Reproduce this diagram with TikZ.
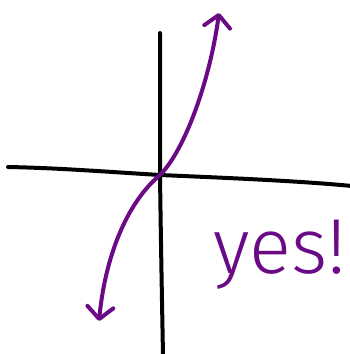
\documentclass[tikz,border=0pt]{standalone}
\usepackage{fontspec}
\newfontfamily\handfont{Fira Sans Light}
\usetikzlibrary{arrows.meta}
\definecolor{grape}{RGB}{106,10,132}
\tikzset{barbtip/.tip={Straight Barb[length=12pt,width=26pt,line cap=round,line join=round]}}
\begin{document}
\begin{tikzpicture}[x=1pt,y=-1pt,
  axisline/.style={line width=4pt,black,line cap=round},
  curveline/.style={line width=4pt,grape,line cap=round,line join=round},
  label/.style={text=grape,font=\handfont\fontsize{78}{78}\selectfont,inner sep=0pt}]
\useasboundingbox (0,0) rectangle (349,354);
\coordinate (O) at (160,175);
\coordinate (xl) at (8,167);
\coordinate (xr) at (352,186);
\coordinate (yt) at (160,33);
\coordinate (yb) at (163,356);
\coordinate (cb) at (99,321);
\coordinate (ct) at (219,13);
\draw[axisline] (xl) .. controls (60,168) and (110,172) .. (O) .. controls (230,178) and (300,181) .. (xr);
\draw[axisline] (yt) .. controls (160,80) and (160,130) .. (O) .. controls (161,250) and (162,300) .. (yb);
\draw[curveline,barbtip-barbtip] (cb) .. controls (106,250) and (130,200) .. (O) .. controls (185,150) and (210,80) .. (ct);
\node[label,anchor=base west] (yes) at (213,273) {yes!};
\end{tikzpicture}
\end{document}
